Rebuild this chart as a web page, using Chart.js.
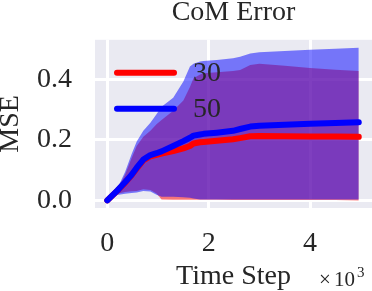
<!DOCTYPE html>
<html><head><meta charset="utf-8">
<script src="https://cdn.jsdelivr.net/npm/chart.js@4"></script>
<style>html,body{margin:0;padding:0;background:#fff;} #wrap{width:372px;height:291px;}</style>
</head><body><div id="wrap"><canvas id="c" width="372" height="291"></canvas></div>
<script>
const TIME_STEPS = [0, 200, 350, 480, 580, 710, 850, 970, 1070, 1300, 1500, 1630, 1700, 1830, 1900, 2160, 2480, 2620, 2820, 3000, 3500, 4000, 4500, 4960];
const MEAN_30  = [0, 0.032, 0.058, 0.083, 0.105, 0.132, 0.146, 0.151, 0.155, 0.163, 0.172, 0.180, 0.188, 0.192, 0.193, 0.197, 0.202, 0.206, 0.212, 0.213, 0.212, 0.211, 0.211, 0.210];
const LOWER_30 = [0, 0.022, 0.028, 0.030, 0.031, 0.037, 0.034, 0.023, 0.003, 0.002, 0.002, 0.002, 0.002, 0.002, 0.002, 0.002, 0.001, 0.001, 0.001, 0.001, 0.001, 0.001, 0.001, 0.0];
const UPPER_30 = [0, 0.038, 0.085, 0.140, 0.180, 0.210, 0.230, 0.252, 0.266, 0.296, 0.330, 0.375, 0.404, 0.416, 0.420, 0.424, 0.428, 0.431, 0.448, 0.452, 0.445, 0.438, 0.432, 0.428];
const MEAN_50  = [0, 0.033, 0.060, 0.085, 0.108, 0.135, 0.150, 0.156, 0.162, 0.180, 0.196, 0.207, 0.214, 0.218, 0.220, 0.224, 0.230, 0.236, 0.244, 0.247, 0.250, 0.253, 0.256, 0.258];
const LOWER_50 = [0, 0.018, 0.022, 0.024, 0.026, 0.031, 0.029, 0.019, 0.012, 0.012, 0.010, 0.009, 0.006, 0.003, 0.003, 0.003, 0.003, 0.003, 0.003, 0.003, 0.003, 0.003, 0.003, 0.003];
const UPPER_50 = [0, 0.040, 0.094, 0.153, 0.195, 0.230, 0.257, 0.285, 0.310, 0.339, 0.393, 0.443, 0.452, 0.459, 0.461, 0.464, 0.470, 0.475, 0.486, 0.490, 0.494, 0.498, 0.501, 0.505];
const SERIES_LABELS = ['30', '50'];
const X_TICKS = [0, 2000, 4000];
const Y_TICKS = [0, 0.2, 0.4];
const TITLE = 'CoM Error';
const X_LABEL = 'Time Step';
const Y_LABEL = 'MSE';

const FONT = '"Liberation Serif", "DejaVu Serif", serif';
const TXT = '#262626';
const pts = arr => TIME_STEPS.map((x, i) => ({x: x, y: arr[i]}));

const bgPlugin = {
  id: 'bg',
  beforeDraw(chart) {
    const {ctx, chartArea: a} = chart;
    ctx.save();
    ctx.fillStyle = '#EAEAF2';
    ctx.fillRect(a.left, a.top, a.right - a.left, a.bottom - a.top);
    ctx.restore();
  }
};

const overlayPlugin = {
  id: 'overlay',
  afterDraw(chart) {
    const {ctx, chartArea: a} = chart;
    // legend inside the plot
    [4, 5].forEach((di, k) => {
      const ds = chart.data.datasets[di];
      const y = a.top + 33 + k * 36;
      ctx.save();
      ctx.strokeStyle = ds.borderColor;
      ctx.lineWidth = 6;
      ctx.lineCap = 'round';
      ctx.beginPath();
      ctx.moveTo(a.left + 22, y);
      ctx.lineTo(a.left + 79, y);
      ctx.stroke();
      ctx.fillStyle = TXT;
      ctx.font = '28px ' + FONT;
      ctx.textBaseline = 'middle';
      ctx.textAlign = 'left';
      ctx.fillText(ds.label, a.left + 98, y + 1);
      ctx.restore();
    });
    // x offset label (x10^3)
    ctx.save();
    ctx.fillStyle = TXT;
    ctx.textBaseline = 'alphabetic';
    ctx.textAlign = 'left';
    ctx.font = '21px ' + FONT;
    ctx.fillText('\u00d7', 319, 286);
    ctx.fillText('10', 334, 286);
    const w10 = ctx.measureText('10').width;
    ctx.font = '15px ' + FONT;
    ctx.fillText('3', 334 + w10 + 2, 277);
    ctx.restore();
  }
};

const band = (arr, color, order, fillTarget) => ({
  data: pts(arr), borderWidth: 0, pointRadius: 0, order: order,
  backgroundColor: color, borderColor: 'rgba(0,0,0,0)',
  fill: fillTarget === null ? false : {target: fillTarget}
});

new Chart(document.getElementById('c'), {
  type: 'line',
  data: {
    datasets: [
      band(LOWER_30, 'rgba(255,0,0,0.5)', 10, null),
      band(UPPER_30, 'rgba(255,0,0,0.5)', 9, 0),
      band(LOWER_50, 'rgba(0,0,255,0.5)', 8, null),
      band(UPPER_50, 'rgba(0,0,255,0.5)', 7, 2),
      {label: SERIES_LABELS[0], data: pts(MEAN_30), borderColor: '#ff0000', borderWidth: 6,
       pointRadius: 0, fill: false, order: 2, borderCapStyle: 'round', borderJoinStyle: 'round'},
      {label: SERIES_LABELS[1], data: pts(MEAN_50), borderColor: '#0000ff', borderWidth: 6,
       pointRadius: 0, fill: false, order: 1, borderCapStyle: 'round', borderJoinStyle: 'round'}
    ]
  },
  options: {
    responsive: false,
    animation: false,
    devicePixelRatio: 1,
    layout: {padding: 0},
    elements: {line: {tension: 0}},
    plugins: {
      legend: {display: false},
      tooltip: {enabled: false},
      title: {
        display: true, text: TITLE, color: TXT, fullSize: false,
        font: {family: FONT, size: 28, weight: 'normal', lineHeight: 0.75},
        padding: {top: 0, bottom: 17}
      }
    },
    scales: {
      x: {
        type: 'linear', min: -243, max: 5221,
        afterBuildTicks: s => { s.ticks = X_TICKS.map(v => ({value: v})); },
        afterFit: s => { s.height = 83; },
        grid: {color: '#ffffff', lineWidth: 3, drawTicks: false},
        border: {display: false},
        ticks: {color: TXT, font: {family: FONT, size: 28}, padding: 19, callback: v => String(v / 1000)},
        title: {display: true, text: X_LABEL, color: TXT,
                font: {family: FONT, size: 28, lineHeight: 0.75}, padding: {top: 0, bottom: 3.5}}
      },
      y: {
        type: 'linear', min: -0.0252, max: 0.531,
        afterBuildTicks: s => { s.ticks = Y_TICKS.map(v => ({value: v})); },
        afterFit: s => { s.width = 95; },
        grid: {color: '#ffffff', lineWidth: 3, drawTicks: false},
        border: {display: false},
        ticks: {color: TXT, font: {family: FONT, size: 28}, padding: 23, callback: v => v.toFixed(1)},
        title: {display: true, text: Y_LABEL, color: TXT,
                font: {family: FONT, size: 28, lineHeight: 0.75}, padding: 0}
      }
    }
  },
  plugins: [bgPlugin, overlayPlugin]
});
</script>
</body></html>
